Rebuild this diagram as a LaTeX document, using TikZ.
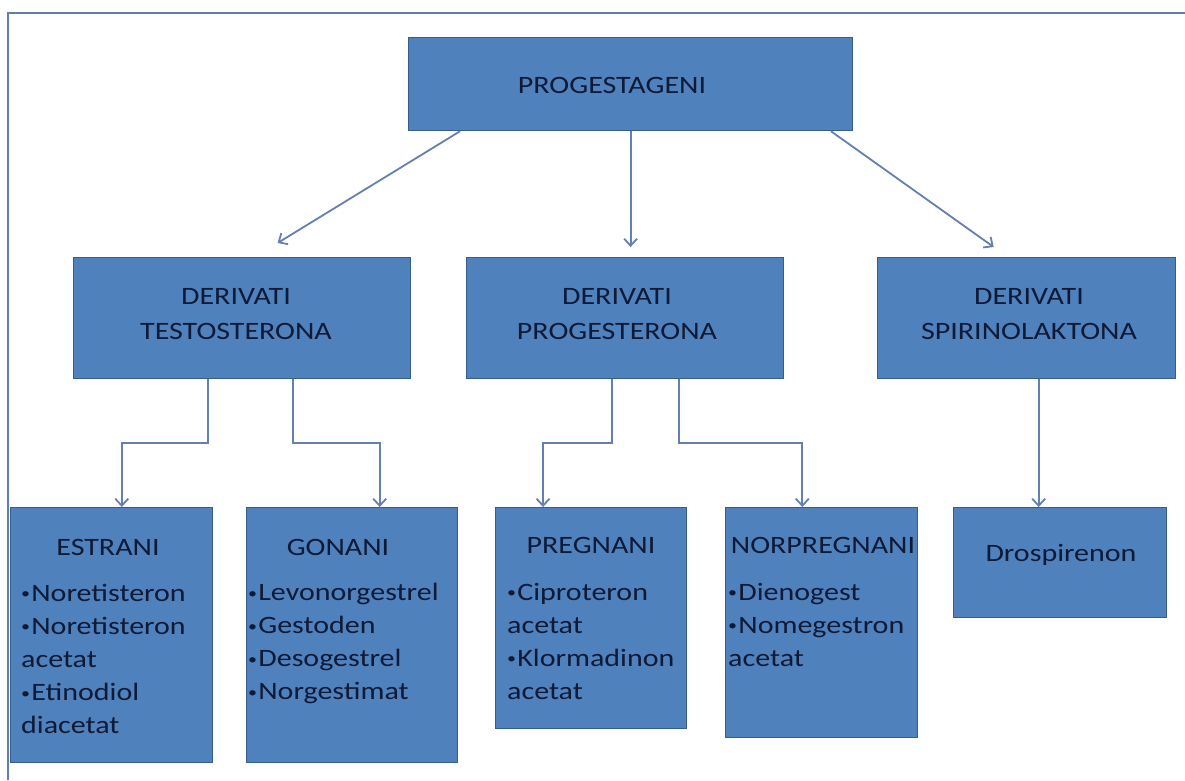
\documentclass[tikz,border=0pt]{standalone}
\usepackage{fontspec}
\setmainfont{Carlito}
\usetikzlibrary{arrows.meta,calc}
\definecolor{boxfill}{HTML}{4F81BD}
\definecolor{boxline}{HTML}{385D8A}
\definecolor{txt}{HTML}{0E1A36}
\definecolor{arrowc}{HTML}{6380B0}
\definecolor{framec}{HTML}{5F7FB2}
\newcommand{\sx}[1]{\scalebox{1.2}[1]{#1}}
\newcommand{\bul}{\raisebox{2.5pt}{\fontsize{15}{15}\selectfont •}\hspace{1pt}}
\tikzset{
  box/.style={draw=boxline, fill=boxfill, line width=1.2pt, inner sep=0pt, anchor=north west},
  ttl/.style={text=txt, inner sep=0pt, font=\fontsize{25}{35}\selectfont},
  lst/.style={text=txt, inner sep=0pt, align=left, anchor=north west, font=\fontsize{25}{33}\selectfont},
  conn/.style={draw=arrowc, line width=1.8pt, -{Straight Barb[length=7pt,width=13pt]}},
}
\begin{document}
\begin{tikzpicture}[x=1pt,y=-1pt]
\useasboundingbox (0,0) rectangle (1185,780);
\fill[white] (0,0) rectangle (1185,780);
\draw[framec, line width=2pt] (8,780) -- (8,12.5) -- (1185,12.5);

% boxes
\node[box, minimum width=444pt, minimum height=93pt] (prog) at (408,37) {};
\node[box, minimum width=337pt, minimum height=121pt] (dt) at (73,257) {};
\node[box, minimum width=317pt, minimum height=121pt] (dp) at (466,257) {};
\node[box, minimum width=298pt, minimum height=121pt] (ds) at (877,257) {};
\node[box, minimum width=202pt, minimum height=255pt] (estr) at (10,507) {};
\node[box, minimum width=211pt, minimum height=255pt] (gon) at (246,507) {};
\node[box, minimum width=191pt, minimum height=221pt] (preg) at (495,507) {};
\node[box, minimum width=192pt, minimum height=230pt] (norp) at (725,507) {};
\node[box, minimum width=213pt, minimum height=110pt] (dros) at (953,507) {};

% connectors
\draw[conn] ($(prog.south west)!0.117!(prog.south east)$) -- ($(dt.north west)!0.605!(dt.north east)+(0,-14)$);
\draw[conn] (prog.south) -- ($(prog.south |- dp.north)+(0,-10)$);
\draw[conn] ($(prog.south west)!0.95!(prog.south east)$) -- ($(ds.north west)!0.39!(ds.north east)+(0,-10)$);

\draw[conn] ($(dt.south west)!0.398!(dt.south east)$) -- ++(0,64) -| ($(estr.north west)!0.55!(estr.north east)$);
\draw[conn] ($(dt.south west)!0.65!(dt.south east)$) -- ++(0,64) -| ($(gon.north west)!0.63!(gon.north east)$);
\draw[conn] ($(dp.south west)!0.46!(dp.south east)$) -- ++(0,64) -| ($(preg.north west)!0.25!(preg.north east)$);
\draw[conn] ($(dp.south west)!0.669!(dp.south east)$) -- ++(0,64) -| ($(norp.north west)!0.40!(norp.north east)$);
\coordinate (drosin) at ($(dros.north west)!0.40!(dros.north east)$);
\draw[conn] (drosin |- ds.south) -- (drosin);

% texts
\node[ttl, anchor=base] (tprog) at (612,93) {\sx{PROGESTAGENI}};
\node[ttl, align=center, anchor=north] (tdt) at (236,288) {\sx{DERIVATI}\\\sx{TESTOSTERONA}};
\node[ttl, align=center, anchor=north] (tdp) at (617,288) {\sx{DERIVATI}\\\sx{PROGESTERONA}};
\node[ttl, align=center, anchor=north] (tds) at (1029,288) {\sx{DERIVATI}\\\sx{SPIRINOLAKTONA}};

\node[ttl, anchor=base] (testr) at (108,555) {\sx{ESTRANI}};
\node[ttl, anchor=base] (tgon) at (338,555) {\sx{GONANI}};
\node[ttl, anchor=base] (tpreg) at (591,553) {\sx{PREGNANI}};
\node[ttl, anchor=base] (tnorp) at (823,553) {\sx{NORPREGNANI}};
\node[ttl, anchor=base] (tdros) at (1061,561) {\sx{Drospirenon}};

\node[lst] (lestr) at (21,584) {\sx{\bul Noretisteron}\\\sx{\bul Noretisteron}\\\sx{acetat}\\\sx{\bul Etinodiol}\\\sx{diacetat}};
\node[lst] (lgon) at (248,583) {\sx{\bul Levonorgestrel}\\\sx{\bul Gestoden}\\\sx{\bul Desogestrel}\\\sx{\bul Norgestimat}};
\node[lst] (lpreg) at (507,583) {\sx{\bul Ciproteron}\\\sx{acetat}\\\sx{\bul Klormadinon}\\\sx{acetat}};
\node[lst] (lnorp) at (728,583) {\sx{\bul Dienogest}\\\sx{\bul Nomegestron}\\\sx{acetat}};
\end{tikzpicture}
\end{document}
